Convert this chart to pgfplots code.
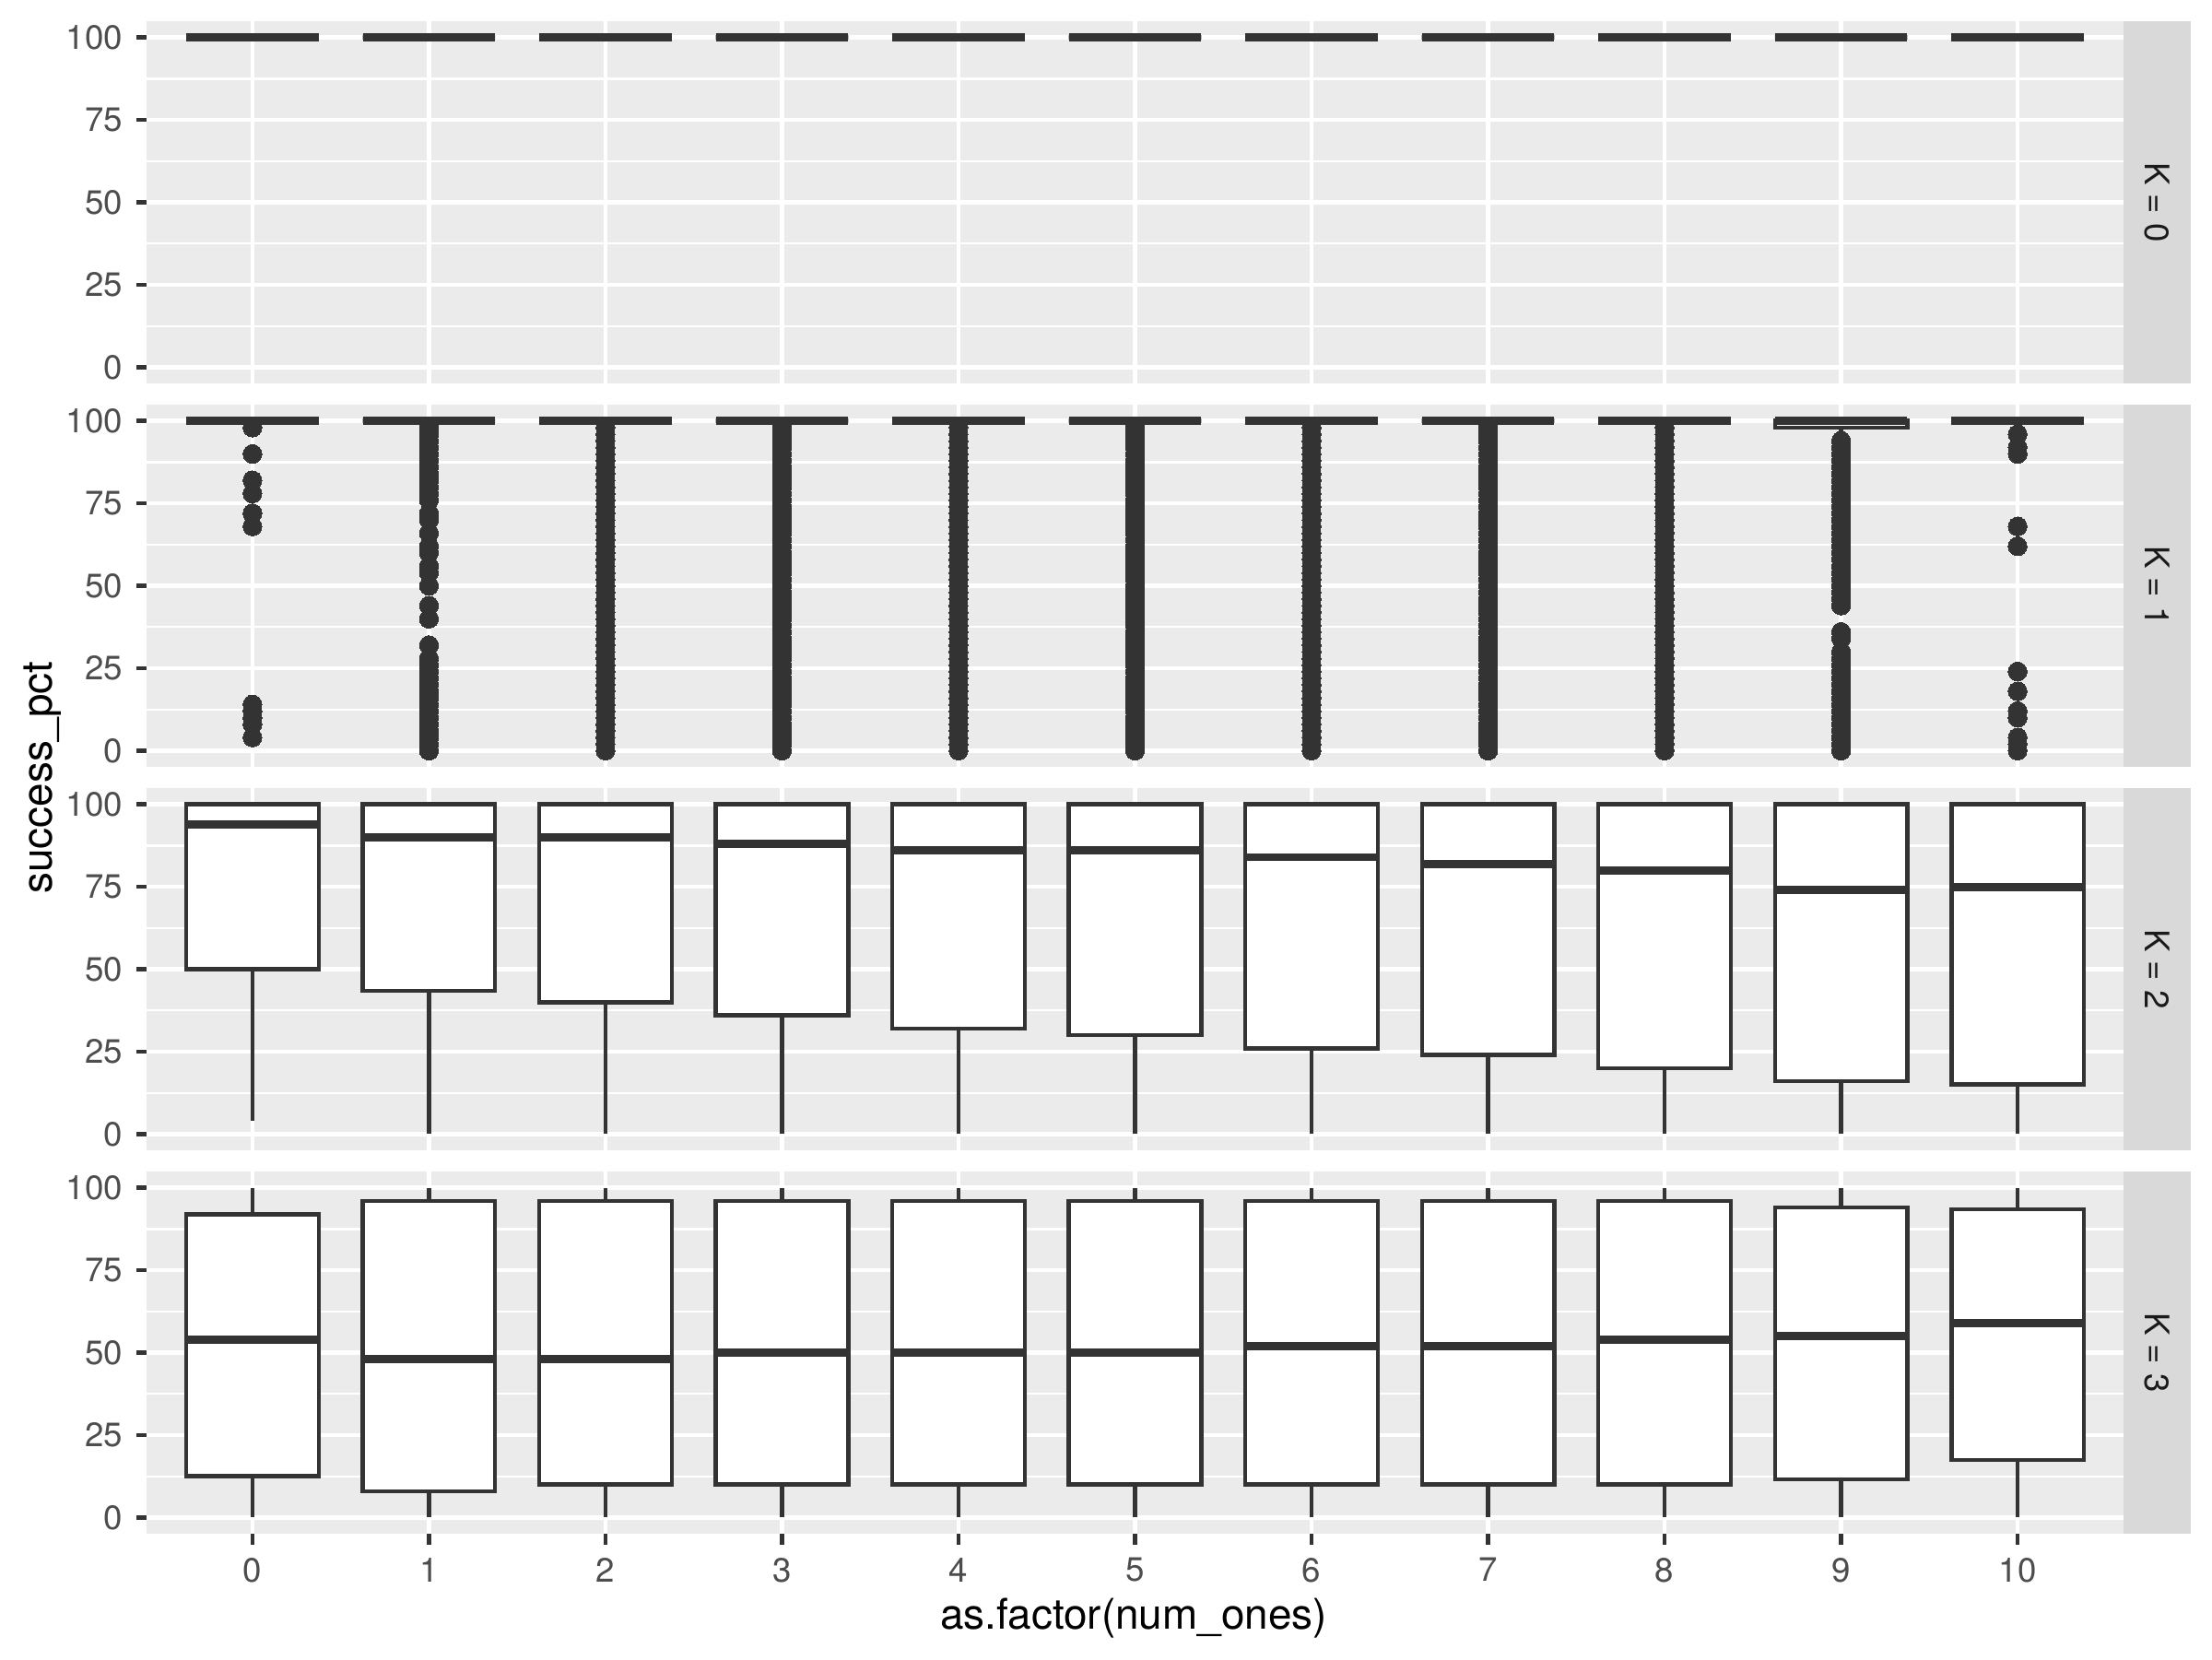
\documentclass[border=0pt]{standalone}
\usepackage{fontspec}
\setmainfont{TeX Gyre Heros}
\usepackage{pgfplots}
\pgfplotsset{compat=1.18}
\usepackage{pgfplotstable}
\usepgfplotslibrary{statistics}
\definecolor{ggbg}{HTML}{EBEBEB}
\definecolor{gg20}{HTML}{333333}
\definecolor{ggtext}{HTML}{4D4D4D}
\definecolor{stripbg}{HTML}{D9D9D9}
\definecolor{striptext}{HTML}{1A1A1A}

\pgfplotstableread{
y
0
2
4
6
8
10
12
14
16
18
20
22
24
26
28
30
32
34
36
38
40
42
44
46
48
50
52
54
56
58
60
62
64
66
68
70
72
74
76
78
80
82
84
86
88
90
92
94
96
98
}\densecol

\pgfplotsset{
  panel/.style={
    scale only axis, width=514.8pt, height=94.42pt, anchor=south west,
    xmin=-0.6, xmax=10.6, ymin=-5, ymax=105,
    axis background/.style={fill=ggbg},
    axis line style={draw=none},
    xtick={0,1,2,3,4,5,6,7,8,9,10},
    ytick={0,25,50,75,100},
    minor ytick={12.5,37.5,62.5,87.5},
    yticklabels={0,25,50,75,100},
    grid=both,
    major grid style={draw=white, line width=1.07pt},
    minor grid style={draw=white, line width=0.53pt},
    tick align=outside, tick pos=left,
    major tick length=2.75pt, minor tick length=0pt,
    tick style={draw=gg20, line width=1.07pt},
    ticklabel style={font=\fontsize{8.8}{10}\selectfont, text=ggtext},
    boxplot/draw direction=y,
    boxplot/box extend=0.75,
    boxplot/whisker extend=0,
    boxplot/every median/.style={line width=2.13pt},
  },
  upper/.style={xticklabels={}, xtick style={draw=none}},
  outl/.style={only marks, color=gg20, mark=*, mark size=2.45pt, mark options={draw=gg20, fill=gg20, line width=0pt}},
}
\newcommand{\bx}[6]{\addplot[draw=gg20, fill=white, line width=1.07pt, boxplot prepared={draw position=#1, lower whisker=#2, lower quartile=#3, median=#4, upper quartile=#5, upper whisker=#6}] coordinates {};}
\newcommand{\strip}[2]{%
  \fill[stripbg] (#1.south east) rectangle ([xshift=17.5pt]#1.north east);
  \node[rotate=-90, text=striptext, font=\fontsize{8.8}{10}\selectfont] at ([xshift=8.75pt]#1.east) {#2};}

\begin{document}
\begin{tikzpicture}
\path[use as bounding box] (0,0) rectangle (576pt,432pt);

% K = 0
\begin{axis}[panel, upper, name=p0, at={(38.16pt,332.1pt)}]
\bx{0}{100}{100}{100}{100}{100}
\bx{1}{100}{100}{100}{100}{100}
\bx{2}{100}{100}{100}{100}{100}
\bx{3}{100}{100}{100}{100}{100}
\bx{4}{100}{100}{100}{100}{100}
\bx{5}{100}{100}{100}{100}{100}
\bx{6}{100}{100}{100}{100}{100}
\bx{7}{100}{100}{100}{100}{100}
\bx{8}{100}{100}{100}{100}{100}
\bx{9}{100}{100}{100}{100}{100}
\bx{10}{100}{100}{100}{100}{100}
\end{axis}
\strip{p0}{K = 0}

% K = 1
\begin{axis}[panel, upper, name=p1, at={(38.16pt,232.26pt)}]
\addplot[outl] coordinates {(0,98)(0,90)(0,82)(0,78)(0,72)(0,68)(0,14)(0,12)(0,10)(0,8)(0,4)};
\addplot[outl] coordinates {(1,98)(1,96)(1,94)(1,92)(1,90)(1,88)(1,86)(1,84)(1,82)(1,80)(1,78)(1,76)
 (1,72)(1,70)(1,66)(1,62)(1,60)(1,56)(1,54)(1,50)(1,44)(1,40)(1,32)
 (1,28)(1,26)(1,24)(1,22)(1,20)(1,18)(1,16)(1,14)(1,12)(1,10)(1,8)(1,6)(1,4)(1,2)(1,0)};
\addplot[outl] table[x expr=2, y=y] {\densecol};
\addplot[outl] table[x expr=3, y=y] {\densecol};
\addplot[outl] table[x expr=4, y=y] {\densecol};
\addplot[outl] table[x expr=5, y=y] {\densecol};
\addplot[outl] table[x expr=6, y=y] {\densecol};
\addplot[outl] table[x expr=7, y=y] {\densecol};
\addplot[outl] table[x expr=8, y=y] {\densecol};
\addplot[outl] coordinates {(9,94)(9,92)(9,90)(9,88)(9,86)(9,84)(9,82)(9,80)(9,78)(9,76)(9,74)(9,72)(9,70)
 (9,68)(9,66)(9,64)(9,62)(9,60)(9,58)(9,56)(9,54)(9,52)(9,50)(9,48)(9,46)(9,44)
 (9,36)(9,34)(9,30)(9,28)(9,26)(9,24)(9,22)(9,20)(9,18)(9,16)(9,14)(9,12)(9,10)(9,8)(9,6)(9,4)(9,2)(9,0)};
\addplot[outl] coordinates {(10,96)(10,92)(10,90)(10,68)(10,62)(10,24)(10,18)(10,12)(10,10)(10,4)(10,2)(10,0)};
\bx{0}{100}{100}{100}{100}{100}
\bx{1}{100}{100}{100}{100}{100}
\bx{2}{100}{100}{100}{100}{100}
\bx{3}{100}{100}{100}{100}{100}
\bx{4}{100}{100}{100}{100}{100}
\bx{5}{100}{100}{100}{100}{100}
\bx{6}{100}{100}{100}{100}{100}
\bx{7}{100}{100}{100}{100}{100}
\bx{8}{100}{100}{100}{100}{100}
\bx{9}{96}{98}{100}{100}{100}
\bx{10}{100}{100}{100}{100}{100}
\end{axis}
\strip{p1}{K = 1}

% K = 2
\begin{axis}[panel, upper, name=p2, at={(38.16pt,132.42pt)}]
\bx{0}{4}{50}{94}{100}{100}
\bx{1}{0}{43.5}{90}{100}{100}
\bx{2}{0}{40}{90}{100}{100}
\bx{3}{0}{36}{88}{100}{100}
\bx{4}{0}{32}{86}{100}{100}
\bx{5}{0}{30}{86}{100}{100}
\bx{6}{0}{26}{84}{100}{100}
\bx{7}{0}{24}{82}{100}{100}
\bx{8}{0}{20}{80}{100}{100}
\bx{9}{0}{16}{74}{100}{100}
\bx{10}{0}{15}{75}{100}{100}
\end{axis}
\strip{p2}{K = 2}

% K = 3
\begin{axis}[panel, name=p3, at={(38.16pt,32.58pt)},
  xticklabels={0,1,2,3,4,5,6,7,8,9,10}]
\bx{0}{0}{12.5}{54}{92}{100}
\bx{1}{0}{8}{48}{96}{100}
\bx{2}{0}{10}{48}{96}{100}
\bx{3}{0}{10}{50}{96}{100}
\bx{4}{0}{10}{50}{96}{100}
\bx{5}{0}{10}{50}{96}{100}
\bx{6}{0}{10}{52}{96}{100}
\bx{7}{0}{10}{52}{96}{100}
\bx{8}{0}{10}{54}{96}{100}
\bx{9}{0}{11.5}{55}{94}{100}
\bx{10}{0}{17.5}{59}{93.5}{100}
\end{axis}
\strip{p3}{K = 3}

\node[rotate=90, font=\fontsize{11}{13}\selectfont] at (11pt,229.56pt) {success\_pct};
\node[font=\fontsize{11}{13}\selectfont] at (295.2pt,10.56pt) {as.factor(num\_ones)};
\end{tikzpicture}
\end{document}
